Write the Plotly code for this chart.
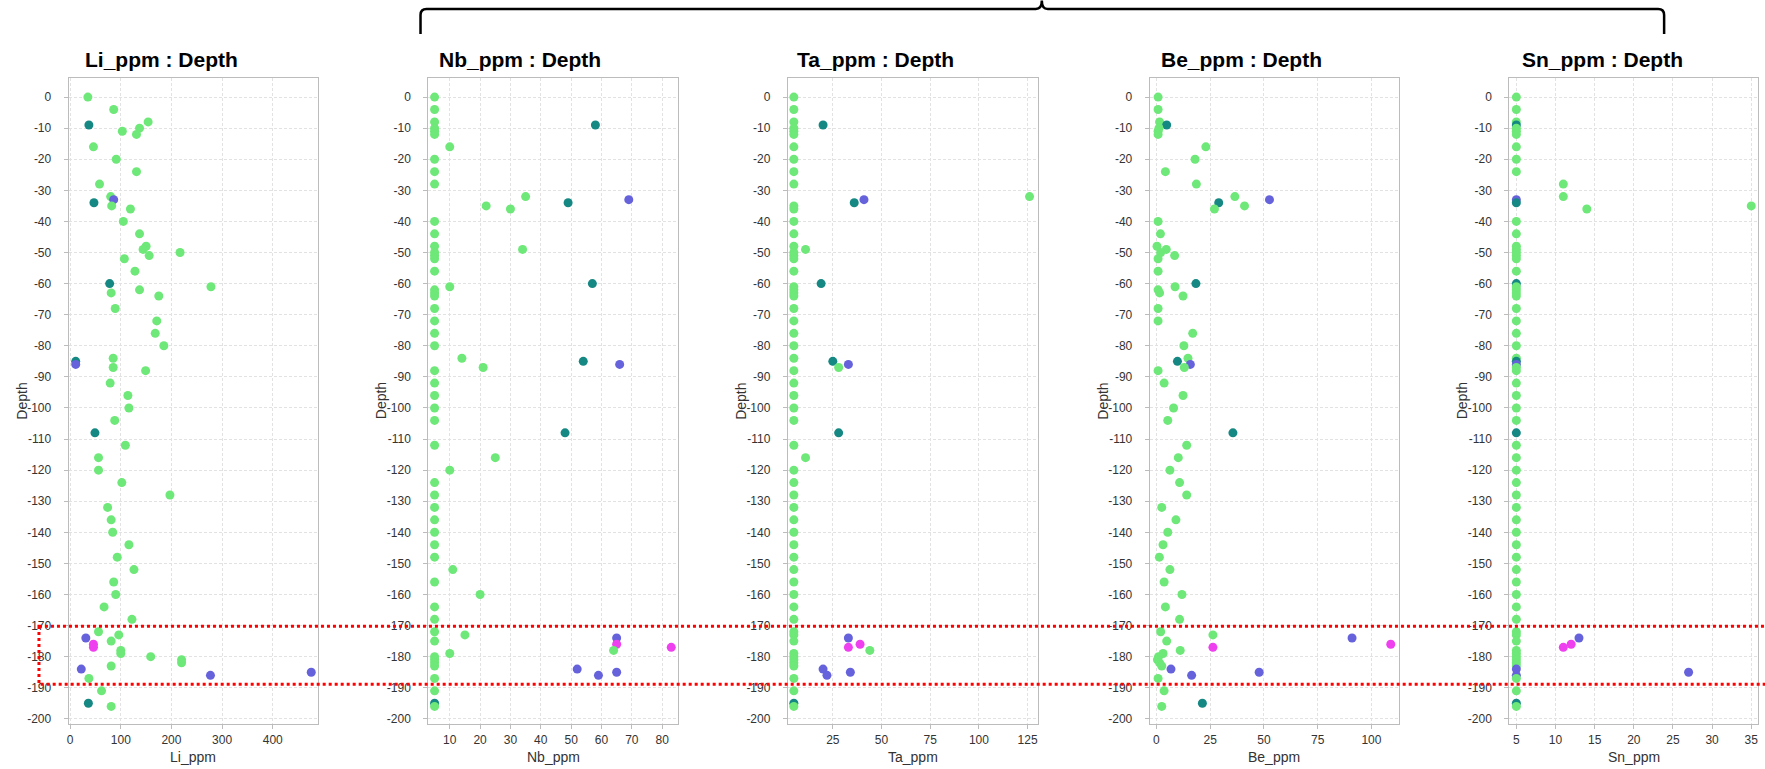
import plotly.graph_objects as go

W, H = 1765, 769

# ---------------- data ----------------
depth = [0, -4, -8, -9, -10, -11, -12, -16, -20, -24,
         -28, -32, -33, -34, -35, -36, -40, -44, -48, -49,
         -50, -51, -52, -56, -60, -61, -62, -63, -64, -68,
         -72, -76, -80, -84, -85, -86, -87, -88, -92, -96,
         -100, -104, -108, -112, -116, -120, -124, -128, -132, -136,
         -140, -144, -148, -152, -156, -160, -164, -168, -172, -173,
         -174, -175, -176, -177, -178, -179, -180, -181, -182, -183,
         -184, -185, -186, -187, -191, -195, -196]

group = ["G", "G", "G", "T", "G", "G", "G", "G", "G", "G",
         "G", "G", "B", "T", "G", "G", "G", "G", "G", "G",
         "G", "G", "G", "G", "T", "G", "G", "G", "G", "G",
         "G", "G", "G", "G", "T", "B", "G", "G", "G", "G",
         "G", "G", "T", "G", "G", "G", "G", "G", "G", "G",
         "G", "G", "G", "G", "G", "G", "G", "G", "G", "G",
         "B", "G", "M", "M", "G", "G", "G", "G", "G", "G",
         "B", "B", "B", "G", "G", "T", "G"]

li_ppm = [35, 86, 154, 37, 137, 103, 131, 46, 91, 131,
          58, 80, 86, 47, 82, 119, 105, 137, 150, 144,
          217, 156, 107, 128, 78, 278, 137, 81, 175, 89,
          171, 168, 185, 85, 11, 11, 85, 149, 79, 114,
          116, 88, 49, 109, 56, 56, 102, 197, 74, 81,
          84, 116, 93, 126, 86, 90, 67, 122, 56, 96,
          31, 81, 46, 46, 100, 100, 159, 220, 220, 81,
          22, 476, 277, 37, 62, 36, 81]

nb_ppm = [5, 5, 5, 58, 5, 5, 5, 10, 5, 5,
          5, 35, 69, 49, 22, 30, 5, 5, 5, 34,
          5, 5, 5, 5, 57, 10, 5, 5, 5, 5,
          5, 5, 5, 14, 54, 66, 21, 5, 5, 5,
          5, 5, 48, 5, 25, 10, 5, 5, 5, 5,
          5, 5, 5, 11, 5, 20, 5, 5, 5, 15,
          65, 5, 65, 83, 64, 10, 5, 5, 5, 5,
          52, 65, 59, 5, 5, 5, 5]

ta_ppm = [5, 5, 5, 20, 5, 5, 5, 5, 5, 5,
          5, 126, 41, 36, 5, 5, 5, 5, 5, 11,
          5, 5, 5, 5, 19, 5, 5, 5, 5, 5,
          5, 5, 5, 5, 25, 33, 28, 5, 5, 5,
          5, 5, 28, 5, 11, 5, 5, 5, 5, 5,
          5, 5, 5, 5, 5, 5, 5, 5, 5, 5,
          33, 5, 39, 33, 44, 5, 5, 5, 5, 5,
          20, 34, 22, 5, 5, 5, 5]

be_ppm = [0.8, 0.8, 1.5, 4.8, 1.2, 0.8, 0.8, 23, 18, 4.2,
          18.6, 36.5, 52.6, 29, 41, 27, 0.8, 1.9, 0.3, 4.6,
          2, 8.5, 0.8, 0.8, 18.4, 8.7, 0.8, 1.5, 12.4, 0.8,
          0.8, 16.9, 12.8, 14.7, 9.8, 15.8, 13, 0.8, 3.6, 12.4,
          8, 5.3, 35.6, 14.1, 10.2, 6.3, 10.8, 14.1, 2.5, 9.1,
          5.3, 3.1, 1.4, 6.3, 3.6, 11.9, 4.2, 10.8, 2, 26.3,
          91, 4.8, 109, 26.3, 11.1, 3.1, 1, 0.5, 1.5, 2.5,
          6.8, 47.8, 16.4, 0.8, 3.6, 21.4, 2.5]

sn_ppm = [5, 5, 5, 5, 5, 5, 5, 5, 5, 5,
          11, 11, 5, 5, 35, 14, 5, 5, 5, 5,
          5, 5, 5, 5, 5, 5, 5, 5, 5, 5,
          5, 5, 5, 5, 5, 5, 5, 5, 5, 5,
          5, 5, 5, 5, 5, 5, 5, 5, 5, 5,
          5, 5, 5, 5, 5, 5, 5, 5, 5, 5,
          13, 5, 12, 11, 5, 5, 5, 5, 5, 5,
          5, 27, 5, 5, 5, 5, 5]

elements = ["Li_ppm", "Nb_ppm", "Ta_ppm", "Be_ppm", "Sn_ppm"]
element_values = [li_ppm, nb_ppm, ta_ppm, be_ppm, sn_ppm]

x_tickvals = [[0, 100, 200, 300, 400],
              [10, 20, 30, 40, 50, 60, 70, 80],
              [25, 50, 75, 100, 125],
              [0, 25, 50, 75, 100],
              [5, 10, 15, 20, 25, 30, 35]]
x_ranges = [[-3, 490], [2.9, 85.2], [1.9, 130.1], [-3.1, 112.7], [4.1, 35.9]]

y_tickvals = [0, -10, -20, -30, -40, -50, -60, -70, -80, -90, -100,
              -110, -120, -130, -140, -150, -160, -170, -180, -190, -200]
y_ticktext = ["0", "-10", "-20", "-30", "-40", "-50", "-60", "-70", "-80", "-90", "-100",
              "-110", "-120", "-130", "-140", "-150", "-160", "-170", "-180", "-190", "-200"]
y_range = [-201.7, 6.2]

highlight_depth = [-170.2, -188.9]

# ---------------- style ----------------
group_colors = {"G": "#6ee878", "T": "#168883", "B": "#6562dc", "M": "#ee40ee"}
FONT = "Liberation Sans, Arial, sans-serif"
plot_left = [66.7, 426.7, 786.7, 1149.0, 1509.0]
plot_right = [316.7, 676.7, 1036.7, 1398.3, 1758.3]
title_left = [81.0, 435.5, 793.5, 1158.5, 1520.0]
plot_top, plot_bottom = 78.0, 726.0
LINE = "#bcbcbc"
GRID = "#e2e2e2"


def px(x):
    return x / W


def py(y):
    return 1 - y / H


fig = go.Figure()
annotations = []
colors = [group_colors[g] for g in group]

for i, (name, vals) in enumerate(zip(elements, element_values)):
    suf = "" if i == 0 else str(i + 1)
    fig.add_trace(go.Scatter(
        x=vals, y=depth, mode="markers",
        marker=dict(size=9, color=colors, line=dict(width=0)),
        xaxis="x" + suf, yaxis="y" + suf, showlegend=False,
        name=name))
    fig.layout["xaxis" + suf] = dict(
        domain=[px(plot_left[i]), px(plot_right[i])], range=x_ranges[i],
        anchor="y" + suf, tickmode="array", tickvals=x_tickvals[i],
        showgrid=True, gridcolor=GRID, griddash="3px,2px", gridwidth=1,
        zeroline=False, showline=True, linecolor=LINE, linewidth=1, mirror=True,
        ticks="outside", ticklen=4, tickcolor=LINE,
        tickfont=dict(family=FONT, size=12, color="#333333"))
    fig.layout["yaxis" + suf] = dict(
        domain=[py(plot_bottom), py(plot_top)], range=y_range,
        anchor="x" + suf, tickmode="array", tickvals=y_tickvals, ticktext=y_ticktext,
        showgrid=True, gridcolor=GRID, griddash="3px,2px", gridwidth=1,
        zeroline=False, showline=True, linecolor=LINE, linewidth=1, mirror=True,
        ticks="outside", ticklen=4, tickcolor=LINE, ticklabelstandoff=10,
        tickfont=dict(family=FONT, size=12, color="#333333"))
    # panel title
    annotations.append(dict(
        text="<b>%s : Depth</b>" % name, x=px(title_left[i]), y=py(60),
        xref="paper", yref="paper", xanchor="left", yanchor="middle",
        showarrow=False, font=dict(family=FONT, size=21, color="#000000")))
    # x axis title
    annotations.append(dict(
        text=name, x=px((plot_left[i] + plot_right[i]) / 2), y=py(759),
        xref="paper", yref="paper", xanchor="center", yanchor="middle",
        showarrow=False, font=dict(family=FONT, size=14, color="#333333")))
    # y axis title
    annotations.append(dict(
        text="Depth", x=px(plot_left[i] - 47), y=py((plot_top + plot_bottom) / 2),
        xref="paper", yref="paper", xanchor="center", yanchor="middle",
        textangle=-90, showarrow=False,
        font=dict(family=FONT, size=14, color="#333333")))

shapes = []
# red dotted highlight rectangle (depth interval), open to the right edge
shapes.append(dict(
    type="rect", xref="paper", yref="y", x0=px(37), x1=1.02,
    y0=highlight_depth[0], y1=highlight_depth[1],
    line=dict(color="#ff0000", width=3, dash="dot"), fillcolor="rgba(0,0,0,0)",
    layer="above"))

# curly brace above panels 2-5
bl, br, bm = 419.0, 1664.0, 1041.0
yb, yh, yp = 34.0, 9.0, 0.5
r = 6.0


def P(x, y):
    return "%.5f,%.5f" % (px(x), py(y))


path = ("M " + P(bl, yb) + " L " + P(bl, yh + r) +
        " Q " + P(bl, yh) + " " + P(bl + r, yh) +
        " L " + P(bm - r, yh) +
        " Q " + P(bm, yh) + " " + P(bm, yp) +
        " Q " + P(bm, yh) + " " + P(bm + r, yh) +
        " L " + P(br - r, yh) +
        " Q " + P(br, yh) + " " + P(br, yh + r) +
        " L " + P(br, yb))
shapes.append(dict(type="path", xref="paper", yref="paper", path=path,
                   line=dict(color="#000000", width=2.5)))

fig.update_layout(
    width=W, height=H, margin=dict(l=0, r=0, t=0, b=0),
    paper_bgcolor="white", plot_bgcolor="white",
    font=dict(family=FONT), showlegend=False,
    annotations=annotations, shapes=shapes)

fig.write_html("out.html",
               config={"displayModeBar": False},
               post_script="document.body.style.margin='0px';"
                           "document.body.style.overflow='hidden';")
